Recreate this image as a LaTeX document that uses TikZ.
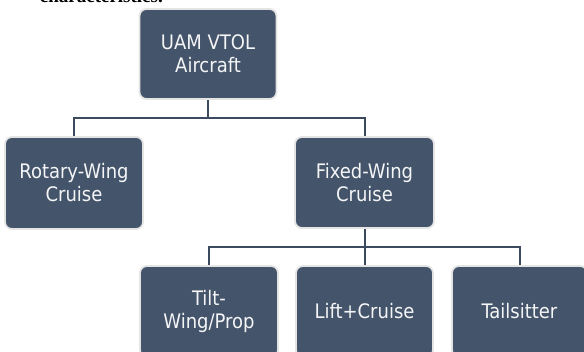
\documentclass[tikz,border=0pt]{standalone}
\usepackage{fontspec}
\newfontfamily\boxfont{DejaVu Sans Condensed}
\newfontfamily\serifbold{Liberation Serif}
\definecolor{boxfill}{HTML}{44546A}
\definecolor{boxedge}{HTML}{E4E4E4}
\definecolor{linecol}{HTML}{3B4A5E}
\tikzset{
  catbox/.style={draw=boxedge, line width=1.8pt, fill=boxfill, rounded corners=7pt,
    minimum width=137pt, minimum height=90pt, inner sep=2pt, align=center,
    text=white!94!boxfill, font=\boxfont\fontsize{20pt}{23pt}\selectfont},
  conn/.style={draw=linecol, line width=2pt}
}
\begin{document}
\begin{tikzpicture}[x=1pt,y=-1pt]
\useasboundingbox (0,0) rectangle (584,352);
\begin{scope}
\clip (0,0) rectangle (584,352);
\node[anchor=base east, inner sep=0pt, font=\serifbold\bfseries\fontsize{19pt}{21pt}\selectfont] (cap) at (163,3) {characteristics.};
\node[catbox] (top) at (208,54) {UAM VTOL\\Aircraft};
\node[catbox, minimum width=138pt, minimum height=92pt] (rot) at (74,183) {Rotary-Wing\\Cruise};
\node[catbox, minimum width=139pt, minimum height=91pt] (fix) at (364.5,182.5) {Fixed-Wing\\Cruise};
\node[catbox, minimum width=138pt, minimum height=91pt] (tilt) at (209,311.5) {Tilt-\\Wing/Prop};
\node[catbox, minimum width=137pt, minimum height=91pt] (lift) at (364.5,311.5) {Lift+Cruise};
\node[catbox, minimum width=135pt, minimum height=91pt] (tail) at (519.5,311.5) {Tailsitter};
\coordinate (bus1) at (208,118.5);
\coordinate (bus2) at (364.5,247);
\draw[conn] (top.south) -- (bus1);
\draw[conn] (rot.north) |- (bus1) -| (fix.north);
\draw[conn] (fix.south) -- (bus2);
\draw[conn] (tilt.north) |- (bus2) -| (tail.north);
\draw[conn] (bus2) -- (lift.north);
\end{scope}
\end{tikzpicture}
\end{document}
